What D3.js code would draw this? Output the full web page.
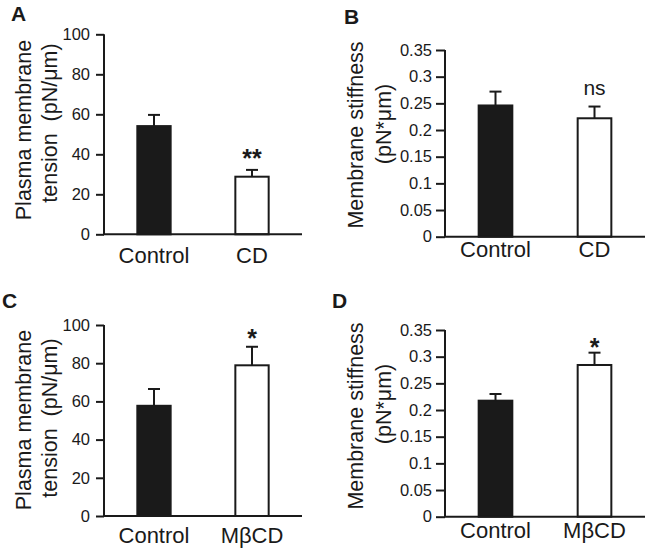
<!DOCTYPE html>
<html>
<head>
<meta charset="utf-8">
<script src="https://cdn.jsdelivr.net/npm/d3@7"></script>
<style>
  html, body { margin: 0; padding: 0; background: #fff; }
  svg text { font-family: "Liberation Sans", Arial, Helvetica, sans-serif; fill: #1a1a1a; }
</style>
</head>
<body>
<svg id="chart" width="649" height="549"></svg>
<script>
// ---- data ----
const categoriesAB = ["Control", "CD"];
const categoriesCD = ["Control", "MβCD"];

const tensionCD = [54.1, 28.8];
const tensionCDErr = [5.6, 3.4];

const stiffnessCD = [0.246, 0.222];
const stiffnessCDErr = [0.026, 0.022];

const tensionMBCD = [57.7, 78.9];
const tensionMBCDErr = [8.8, 9.7];

const stiffnessMBCD = [0.2175, 0.2844];
const stiffnessMBCDErr = [0.0125, 0.0231];

const tensionTicks = [0, 20, 40, 60, 80, 100];
const stiffnessTicks = [0, 0.05, 0.1, 0.15, 0.2, 0.25, 0.3, 0.35];

const sigA = ["", "**"];
const sigB = ["", "ns"];
const sigC = ["", "*"];
const sigD = ["", "*"];
const panelLetters = ["A", "B", "C", "D"];

const svg = d3.select("#chart");
const ink = "#1a1a1a";

function panel(o) {
  const g = svg.append("g");
  const x = d3.scaleBand().domain(o.cats).range([o.x0, o.x1]).paddingInner(0.66).paddingOuter(0.34);
  const y = d3.scaleLinear().domain([0, o.max]).range([o.y0, o.yTop]);

  // bars
  g.selectAll("rect.bar").data(o.vals).join("rect")
    .attr("x", (d, i) => x(o.cats[i]))
    .attr("y", d => y(d))
    .attr("width", x.bandwidth())
    .attr("height", d => y(0) - y(d))
    .attr("fill", (d, i) => i === 0 ? ink : "#fff")
    .attr("stroke", ink)
    .attr("stroke-width", 2);

  // error bars
  const cap = 6;
  o.vals.forEach((v, i) => {
    const cx = x(o.cats[i]) + x.bandwidth() / 2;
    g.append("line").attr("x1", cx).attr("x2", cx)
      .attr("y1", y(v)).attr("y2", y(v + o.errs[i]))
      .attr("stroke", ink).attr("stroke-width", 2);
    g.append("line").attr("x1", cx - cap).attr("x2", cx + cap)
      .attr("y1", y(v + o.errs[i])).attr("y2", y(v + o.errs[i]))
      .attr("stroke", ink).attr("stroke-width", 2);
    const s = o.sig[i];
    if (s) {
      const star = s.indexOf("*") >= 0;
      g.append("text").attr("x", cx).attr("y", o.sigY)
        .attr("text-anchor", "middle")
        .attr("font-size", star ? 25 : 21)
        .attr("font-weight", star ? "bold" : "normal")
        .text(s);
    }
  });

  // y axis
  const ya = g.append("g").attr("transform", `translate(${o.x0},0)`)
    .call(d3.axisLeft(y).tickValues(o.ticks).tickSize(o.tickLen).tickPadding(o.pad)
      .tickFormat(o.fmt));
  ya.select(".domain").attr("d", `M0,${o.yTop}V${o.y0}`).attr("stroke", ink).attr("stroke-width", 2);
  ya.selectAll(".tick line").attr("stroke", ink).attr("stroke-width", 2);
  ya.selectAll(".tick text").attr("font-size", 16.5).attr("font-family", "Liberation Sans, Arial, sans-serif").attr("fill", ink);

  // x axis line
  g.append("line").attr("x1", o.x0 - 1).attr("x2", o.x1).attr("y1", o.y0).attr("y2", o.y0)
    .attr("stroke", ink).attr("stroke-width", 2);

  // x category labels
  g.selectAll("text.cat").data(o.cats).join("text")
    .attr("class", "cat")
    .attr("x", d => x(d) + x.bandwidth() / 2)
    .attr("y", o.catY)
    .attr("text-anchor", "middle")
    .attr("font-size", 22)
    .text(d => d);

  // y axis title (two lines)
  o.titles.forEach(t => {
    g.append("text")
      .attr("transform", `translate(${t.x},${t.yc}) rotate(-90)`)
      .attr("text-anchor", "middle")
      .attr("font-size", 21.5)
      .attr("xml:space", "preserve")
      .style("white-space", "pre")
      .text(t.text);
  });

  // panel letter
  g.append("text").attr("x", o.letter.x).attr("y", o.letter.y)
    .attr("font-size", 21).attr("font-weight", "bold").text(o.letter.t);
}

const fmtInt = d3.format("d");
const fmtDec = d => d === 0 ? "0" : String(+d.toFixed(2));

panel({
  cats: categoriesAB, vals: tensionCD, errs: tensionCDErr, sig: sigA, sigY: 167,
  x0: 104, x1: 302, y0: 234.3, yTop: 34.3, max: 100, ticks: tensionTicks, fmt: fmtInt,
  tickLen: 8, pad: 6, catY: 263,
  titles: [{ x: 31, yc: 130, text: "Plasma membrane" }, { x: 57, yc: 123, text: "tension  (pN/μm)" }],
  letter: { x: 11, y: 21, t: panelLetters[0] }
});

panel({
  cats: categoriesAB, vals: stiffnessCD, errs: stiffnessCDErr, sig: sigB, sigY: 95,
  x0: 445, x1: 645, y0: 236.7, yTop: 50, max: 0.35, ticks: stiffnessTicks, fmt: fmtDec,
  tickLen: 9, pad: 4, catY: 257,
  titles: [{ x: 363, yc: 135, text: "Membrane stiffness" }, { x: 391, yc: 124, text: "(pN*μm)" }],
  letter: { x: 344, y: 24, t: panelLetters[1] }
});

panel({
  cats: categoriesCD, vals: tensionMBCD, errs: tensionMBCDErr, sig: sigC, sigY: 347,
  x0: 104, x1: 302, y0: 516, yTop: 325, max: 100, ticks: tensionTicks, fmt: fmtInt,
  tickLen: 8, pad: 6, catY: 543,
  titles: [{ x: 31, yc: 420, text: "Plasma membrane" }, { x: 57, yc: 418, text: "tension  (pN/μm)" }],
  letter: { x: 2, y: 308, t: panelLetters[2] }
});

panel({
  cats: categoriesCD, vals: stiffnessMBCD, errs: stiffnessMBCDErr, sig: sigD, sigY: 356,
  x0: 445, x1: 645, y0: 516.7, yTop: 330, max: 0.35, ticks: stiffnessTicks, fmt: fmtDec,
  tickLen: 9, pad: 4, catY: 538,
  titles: [{ x: 363, yc: 416, text: "Membrane stiffness" }, { x: 391, yc: 404, text: "(pN*μm)" }],
  letter: { x: 332, y: 308, t: panelLetters[3] }
});
</script>
</body>
</html>
